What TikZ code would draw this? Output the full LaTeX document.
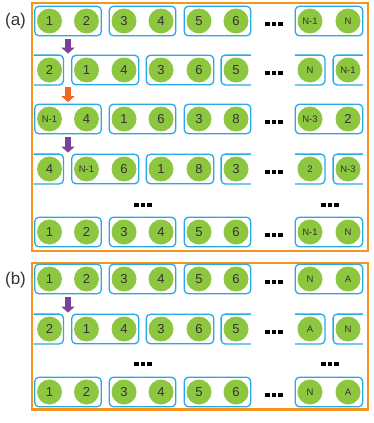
\documentclass[tikz,border=0pt]{standalone}
\usepackage{fontspec}
\setmainfont{Liberation Sans}
\usepackage{tikz}
\usetikzlibrary{arrows.meta,fit}
\definecolor{ballcol}{HTML}{8DC63F}
\definecolor{cellcol}{HTML}{27AAE1}
\definecolor{framecol}{HTML}{F7941D}
\definecolor{swapcol}{HTML}{7E3F98}
\definecolor{shiftcol}{HTML}{F26522}
\definecolor{digitcol}{HTML}{333333}
\def\ballcols{{49.5,86.5,124,161,199,236,310,348}}
\newcommand{\sm}[1]{{\fontsize{9.5}{10}\selectfont #1}}
\newcommand{\sqdots}{\rule{4.6pt}{4.6pt}\hspace{1.8pt}\rule{4.6pt}{4.6pt}\hspace{1.8pt}\rule{4.6pt}{4.6pt}}
\newcommand{\ballrow}[3]{\foreach \lab [count=\i] in {#3}{\pgfmathsetmacro{\xx}{\ballcols[\i-1]}\node[ball] (#1-\i) at (\xx,#2) {\lab};}
  \node[hdots] (#1-dots) at (274,{#2+3}) {\sqdots};}
\newcommand{\pairrow}[1]{\foreach \j/\k [count=\m] in {1/2,3/4,5/6,7/8}{\node[cellbox,fit=(#1-\j)(#1-\k)] (#1-b\m) {};}}
\newcommand{\openleft}[1]{\draw[cellline] (#1.north west) -- (#1.north east) -- (#1.south east) -- (#1.south west);}
\newcommand{\openright}[1]{\draw[cellline] (#1.north east) -- (#1.north west) -- (#1.south west) -- (#1.south east);}
\newcommand{\shiftrow}[1]{\node[cellfit,fit=(#1-1),xshift=-1pt] (#1-f1) {};
  \node[cellbox,fit=(#1-2)(#1-3)] (#1-b1) {};
  \node[cellbox,fit=(#1-4)(#1-5)] (#1-b2) {};
  \node[cellfit,fit=(#1-6)] (#1-f2) {};
  \node[cellfit,fit=(#1-7)] (#1-f3) {};
  \node[cellfit,fit=(#1-8)] (#1-f4) {};
  \openleft{#1-f1}\openright{#1-f2}\openleft{#1-f3}\openright{#1-f4}}

\begin{document}
\begin{tikzpicture}[x=1pt,y=-1pt,
  ball/.style={circle,fill=ballcol,minimum size=25pt,inner sep=0pt,text=digitcol,font=\fontsize{13}{13}\selectfont},
  cellbox/.style={draw=cellcol,line width=1.3pt,rounded corners=4pt,inner sep=2pt},
  cellfit/.style={inner sep=2pt},
  cellline/.style={draw=cellcol,line width=1.3pt,rounded corners=4pt},
  hdots/.style={inner sep=0pt,text=black},
  frame/.style={draw=framecol,line width=2.4pt},
  lbl/.style={font=\fontsize{17}{17}\selectfont,text=digitcol},
  move/.style={-{Triangle[width=13pt,length=6pt]},line width=6pt,shorten <=2.5pt,shorten >=1.5pt}]
\useasboundingbox (0,0) rectangle (374,423);

% panel (a)
\draw[frame] (32,3) rectangle (368,251);
\node[lbl] (lab-a) at (15.5,21) {(a)};
\ballrow{a1}{21}{1,2,3,4,5,6,\sm{N-1},\sm{N}}
\pairrow{a1}
\ballrow{a2}{70}{2,1,4,3,6,5,\sm{N},\sm{N-1}}
\shiftrow{a2}
\ballrow{a3}{119}{\sm{N-1},4,1,6,3,8,\sm{N-3},2}
\pairrow{a3}
\ballrow{a4}{169}{4,\sm{N-1},6,1,8,3,\sm{2},\sm{N-3}}
\shiftrow{a4}
\node[hdots] (a-vdots1) at (143,205) {\sqdots};
\node[hdots] (a-vdots2) at (330,205) {\sqdots};
\ballrow{a5}{232}{1,2,3,4,5,6,\sm{N-1},\sm{N}}
\pairrow{a5}
\draw[move,swapcol] (a1-b1.south) -- (a1-b1.south |- a2-f1.north);
\draw[move,shiftcol] (a3-b1.north |- a2-f1.south) -- (a3-b1.north);
\draw[move,swapcol] (a3-b1.south) -- (a3-b1.south |- a4-f1.north);

% panel (b)
\draw[frame] (32,263) rectangle (368,409.5);
\node[lbl] (lab-b) at (15.5,280) {(b)};
\ballrow{b1}{279}{1,2,3,4,5,6,\sm{N},\sm{A}}
\pairrow{b1}
\ballrow{b2}{329}{2,1,4,3,6,5,\sm{A},\sm{N}}
\shiftrow{b2}
\node[hdots] (b-vdots1) at (143,364) {\sqdots};
\node[hdots] (b-vdots2) at (330,364) {\sqdots};
\ballrow{b3}{392}{1,2,3,4,5,6,\sm{N},\sm{A}}
\pairrow{b3}
\draw[move,swapcol] (b1-b1.south) -- (b1-b1.south |- b2-f1.north);
\end{tikzpicture}
\end{document}
